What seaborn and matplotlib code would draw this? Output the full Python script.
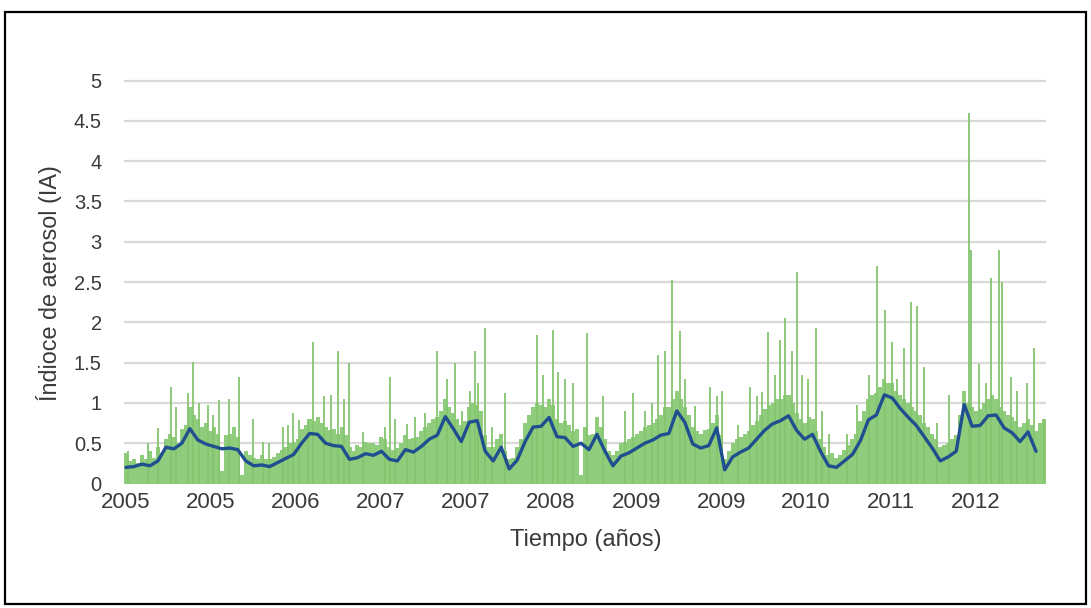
import numpy as np
import pandas as pd
import matplotlib
matplotlib.use("Agg")
import matplotlib.pyplot as plt
from matplotlib.patches import Rectangle
import seaborn as sns

# ---------------- data ----------------
x_labels = ["2005", "2005", "2006", "2007", "2007", "2008", "2009", "2009",
            "2010", "2011", "2012"]

# daily aerosol index, general level (one value per sample step)
ia_base = [
    0.38, 0.28, 0.30, 0.26, 0.35, 0.30, 0.40, 0.32, 0.45, 0.38,
    0.55, 0.62, 0.58, 0.50, 0.68, 0.72, 0.95, 0.85, 0.80, 0.70,
    0.75, 0.65, 0.70, 0.62, 0.15, 0.60, 0.62, 0.70, 0.58, 0.10,
    0.40, 0.35, 0.32, 0.30, 0.35, 0.30, 0.30, 0.33, 0.38, 0.42,
    0.45, 0.50, 0.52, 0.55, 0.68, 0.72, 0.80, 0.78, 0.82, 0.75,
    0.70, 0.66, 0.68, 0.62, 0.70, 0.60, 0.45, 0.40, 0.48, 0.45,
    0.52, 0.50, 0.50, 0.48, 0.58, 0.55, 0.45, 0.42, 0.44, 0.50,
    0.60, 0.55, 0.56, 0.58, 0.65, 0.70, 0.75, 0.80, 0.82, 0.90,
    1.05, 0.95, 0.88, 0.80, 0.72, 0.78, 0.95, 1.00, 0.98, 0.90,
    0.60, 0.45, 0.45, 0.55, 0.62, 0.40, 0.30, 0.32, 0.45, 0.55,
    0.75, 0.85, 0.95, 1.00, 0.98, 0.95, 1.05, 0.98, 0.80, 0.75,
    0.78, 0.72, 0.65, 0.68, 0.10, 0.70, 0.60, 0.62, 0.82, 0.70,
    0.55, 0.40, 0.35, 0.40, 0.50, 0.52, 0.55, 0.58, 0.62, 0.65,
    0.70, 0.72, 0.75, 0.80, 0.85, 0.95, 0.95, 1.05, 1.15, 1.05,
    0.95, 0.85, 0.70, 0.65, 0.62, 0.66, 0.68, 0.75, 0.85, 0.60,
    0.30, 0.40, 0.50, 0.55, 0.58, 0.62, 0.65, 0.72, 0.78, 0.85,
    0.92, 0.98, 1.00, 1.05, 1.05, 1.10, 1.10, 1.00, 0.88, 0.80,
    0.75, 0.82, 0.80, 0.65, 0.55, 0.45, 0.35, 0.38, 0.32, 0.35,
    0.42, 0.48, 0.55, 0.62, 0.78, 0.90, 1.05, 1.10, 1.12, 1.20,
    1.30, 1.25, 1.25, 1.15, 1.10, 1.05, 1.00, 0.95, 0.90, 0.85,
    0.75, 0.70, 0.62, 0.55, 0.45, 0.48, 0.50, 0.55, 0.60, 0.85,
    1.15, 1.00, 0.95, 0.90, 0.92, 1.00, 1.05, 1.10, 1.05, 0.95,
    0.90, 0.85, 0.82, 0.78, 0.70, 0.75, 0.80, 0.72, 0.65, 0.75,
    0.80,
]

# isolated high daily values: (sample position, value)
spike_pos = [
    0.5, 5.5, 8, 11.25, 12.5, 15.5, 16.75, 18.25, 20.5, 21.75,
    23.25, 25.75, 28.25, 31.75, 34.25, 35.75, 39.25, 40.5, 41.75, 43.25,
    45.5, 46.75, 49.5, 51.25, 53, 54.5, 55.75, 59.5, 65, 66.25,
    67.5, 70.5, 72.5, 75, 78, 80.5, 82.5, 84.25, 86.25, 87.5,
    88.25, 90, 91.75, 95, 101.75, 103, 104.5, 107, 108.25, 110,
    112, 115.5, 119.5, 125, 127, 130, 131.75, 133.25, 135, 136.75,
    138.75, 140, 142.5, 146.25, 148, 149.25, 153.25, 156.25, 158, 159.25,
    160.75, 162.5, 163.75, 165, 166.75, 168, 169.25, 170.75, 173, 174.5,
    176.25, 180.75, 183.25, 186.25, 188.25, 190.25, 192, 193.25, 195, 196.75,
    198.25, 200, 203.25, 206.25, 211.25, 211.75, 213.75, 215.5, 216.75, 218.75,
    219.5, 221.75, 223.25, 225.75, 227.5, 230,
]
spike_val = [
    0.40, 0.50, 0.69, 1.20, 0.95, 1.12, 1.51, 1.00, 0.98, 0.85,
    1.04, 1.05, 1.32, 0.80, 0.52, 0.50, 0.70, 0.72, 0.88, 0.79,
    0.80, 1.76, 1.08, 1.10, 1.64, 1.05, 1.50, 0.64, 0.70, 1.32,
    0.80, 0.74, 0.82, 0.88, 1.64, 1.30, 1.50, 0.90, 1.15, 1.64,
    1.25, 1.93, 0.70, 1.12, 0.75, 1.84, 1.35, 1.90, 1.38, 1.30,
    1.25, 1.87, 1.08, 0.90, 1.12, 0.90, 1.00, 1.60, 1.65, 2.52,
    1.89, 1.30, 0.96, 1.20, 1.08, 1.15, 0.72, 1.20, 1.08, 1.14,
    1.88, 1.35, 1.78, 2.05, 1.65, 2.62, 1.35, 1.30, 1.93, 0.90,
    0.62, 0.62, 0.97, 1.35, 2.70, 2.15, 1.75, 1.30, 1.68, 2.25,
    2.20, 1.45, 0.75, 1.10, 4.60, 2.90, 1.48, 1.25, 2.55, 2.90,
    2.50, 1.32, 1.15, 1.25, 1.68, 0.80,
]

# smoothed aerosol index (every second sample)
ia_mean = [
    0.20, 0.21, 0.24, 0.22, 0.28, 0.45, 0.43, 0.50, 0.68, 0.54,
    0.49, 0.46, 0.43, 0.44, 0.42, 0.28, 0.22, 0.23, 0.21, 0.26,
    0.31, 0.36, 0.50, 0.62, 0.61, 0.50, 0.47, 0.46, 0.30, 0.32,
    0.37, 0.35, 0.40, 0.30, 0.28, 0.42, 0.39, 0.46, 0.55, 0.60,
    0.83, 0.68, 0.52, 0.76, 0.78, 0.40, 0.28, 0.45, 0.18, 0.29,
    0.52, 0.70, 0.71, 0.82, 0.58, 0.57, 0.46, 0.50, 0.42, 0.61,
    0.40, 0.22, 0.34, 0.38, 0.44, 0.50, 0.54, 0.60, 0.62, 0.90,
    0.76, 0.49, 0.44, 0.47, 0.69, 0.17, 0.33, 0.39, 0.44, 0.55,
    0.66, 0.74, 0.78, 0.84, 0.66, 0.55, 0.61, 0.40, 0.22, 0.20,
    0.28, 0.36, 0.53, 0.79, 0.85, 1.10, 1.06, 0.93, 0.82, 0.72,
    0.58, 0.44, 0.28, 0.33, 0.40, 0.98, 0.71, 0.72, 0.84, 0.85,
    0.69, 0.63, 0.52, 0.64, 0.40,
]

# ---------------- figure ----------------
W, H = 1091, 608
sns.set_style("white")
plt.rcParams["font.family"] = ["Liberation Sans", "DejaVu Sans"]

fig = plt.figure(figsize=(W / 100, H / 100), dpi=100)
fig.patch.set_facecolor("white")

ymax = 5.05
ax_l, ax_r = 124, 1046
ax_b = 483.5
ax_t = ax_b - ymax * 80.6
ax = fig.add_axes([ax_l / W, (H - ax_b) / H, (ax_r - ax_l) / W, (ax_b - ax_t) / H])

for v in np.arange(0.5, 5.01, 0.5):
    ax.axhline(v, color="#d9d9d9", lw=1.6, zorder=0)

base_df = pd.DataFrame({"t": np.arange(len(ia_base)), "ia": ia_base})
sns.barplot(data=base_df, x="t", y="ia", native_scale=True, width=1.0,
            color="#8fcc7c", saturation=1, linewidth=0, errorbar=None,
            ax=ax, zorder=2)

ax.vlines(spike_pos, 0, spike_val, color="#84c56f", lw=1.3, zorder=2)

mean_df = pd.DataFrame({"t": np.arange(len(ia_mean)) * 2, "ia": ia_mean})
sns.lineplot(data=mean_df, x="t", y="ia", color="#1f4f8f", lw=2.4,
             ax=ax, zorder=3)

ax.set_xlim(-0.5, len(ia_base) - 0.5)
ax.set_ylim(0, ymax)
ax.set_yticks(np.arange(0, 5.01, 0.5))
ax.set_yticklabels(["0", "0.5", "1", "1.5", "2", "2.5", "3", "3.5", "4", "4.5", "5"])
ax.set_xticks(np.arange(len(x_labels)) * 21.3)
ax.set_xticklabels(x_labels)
ax.tick_params(axis="y", length=0, labelsize=14.5, colors="#3a3a3a", pad=16)
ax.tick_params(axis="x", length=0, labelsize=16, colors="#3a3a3a", pad=6)
ax.set_xlabel("")
ax.set_ylabel("")
for s in ax.spines.values():
    s.set_visible(False)

fig.text(49 / W, 1 - 283 / H, "Índioce de aerosol (IA)", rotation=90,
         ha="center", va="center", fontsize=16.8, color="#3a3a3a")
fig.text(586 / W, 1 - 540 / H, "Tiempo (años)", ha="center", va="center",
         fontsize=17, color="#3a3a3a")

fig.patches.append(Rectangle((5 / W, 1 - 604 / H), 1081 / W, 592 / H,
                             transform=fig.transFigure, fill=False,
                             edgecolor="black", lw=1.6))

fig.savefig("out.png", dpi=100)
